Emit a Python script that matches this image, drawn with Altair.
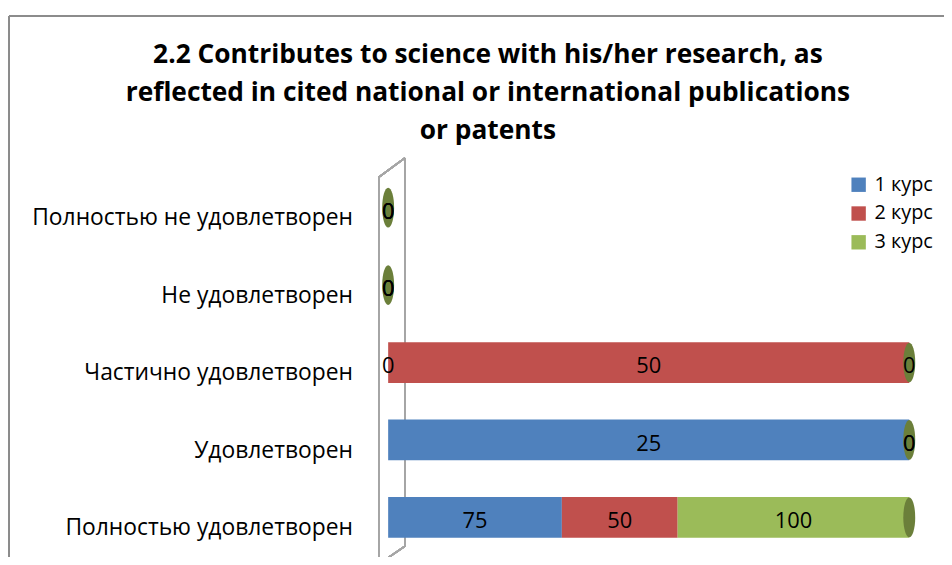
import altair as alt
import pandas as pd

categories = ["Полностью не удовлетворен", "Не удовлетворен", "Частично удовлетворен",
              "Удовлетворен", "Полностью удовлетворен"]
series = ["1 курс", "2 курс", "3 курс"]
values_1 = [0, 0, 0, 25, 75]
values_2 = [0, 0, 50, 0, 50]
values_3 = [0, 0, 0, 0, 100]
colors = ["#4F81BD", "#C0504D", "#9BBB59"]

rows = []
for s_i, (s, vals) in enumerate(zip(series, [values_1, values_2, values_3])):
    for c, v in zip(categories, vals):
        rows.append({"category": c, "series": s, "order": s_i, "value": v})
df = pd.DataFrame(rows)

FONT = "Open Sans"
W, H = 525, 382

base = (
    alt.Chart(df)
    .transform_joinaggregate(total="sum(value)", groupby=["category"])
    .transform_calculate(pct="datum.total > 0 ? datum.value / datum.total : 0")
    .transform_stack(stack="pct", groupby=["category"], as_=["x0", "x1"],
                     sort=[alt.SortField("order", order="ascending")])
    .transform_calculate(mid="(datum.x0 + datum.x1) / 2")
)

yscale = alt.Scale(paddingInner=0.474, paddingOuter=0.185, align=0.4)
yenc = alt.Y("category:N", sort=categories, title=None, scale=yscale,
             axis=alt.Axis(labelFont=FONT, labelFontSize=23, labelColor="#000000",
                           labelPadding=36, labelLimit=500, labelOffset=11,
                           ticks=False, domain=False))
xscale = alt.Scale(domain=[0, 1])

bars = base.mark_bar().encode(
    x=alt.X("x0:Q", scale=xscale, axis=None),
    x2="x1:Q",
    y=yenc,
    color=alt.Color("series:N", scale=alt.Scale(domain=series, range=colors),
                    legend=alt.Legend(title=None, orient="none", legendX=464, legendY=-1,
                                      padding=0, symbolType="square", symbolSize=210,
                                      symbolStrokeWidth=0, symbolOffset=0,
                                      labelFont=FONT, labelFontSize=20, labelOffset=6,
                                      labelColor="#000000", rowPadding=9)),
)

caps = base.transform_filter("datum.series == '3 курс'").mark_point(
    filled=True, opacity=1, color="#6B7F3A",
    shape="M0,-1 A0.3,1 0 1,1 0,1 A0.3,1 0 1,1 0,-1 Z", size=1600,
).encode(x=alt.X("x1:Q", scale=xscale), y=alt.Y("category:N", sort=categories))

labels = base.mark_text(font=FONT, fontSize=22, color="#000000", dy=4).encode(
    x=alt.X("mid:Q", scale=xscale),
    y=alt.Y("category:N", sort=categories),
    text=alt.Text("value:Q"),
)

frame_left = alt.Chart(df).mark_rule(color="#8C8C8C", strokeWidth=1.5).encode(
    x=alt.value(-382), y=alt.value(-161), y2=alt.value(H + 10))
frame_top = alt.Chart(df).mark_rule(color="#8C8C8C", strokeWidth=1.5).encode(
    x=alt.value(-382), x2=alt.value(600), y=alt.value(-161))
wall_left = alt.Chart(df).mark_rule(color="#A6A6A6", strokeWidth=1.5).encode(
    x=alt.value(-9), y=alt.value(1), y2=alt.value(H + 10))
wall_right = alt.Chart(df).mark_rule(color="#A6A6A6", strokeWidth=1.5).encode(
    x=alt.value(17), y=alt.value(-18), y2=alt.value(373))
wall_top = alt.Chart(df).mark_rule(color="#A6A6A6", strokeWidth=1.5).encode(
    x=alt.value(-9), x2=alt.value(17), y=alt.value(1), y2=alt.value(-18))
wall_bottom = alt.Chart(df).mark_rule(color="#A6A6A6", strokeWidth=1.5).encode(
    x=alt.value(-9), x2=alt.value(17), y=alt.value(391), y2=alt.value(373))

chart = alt.layer(frame_left, frame_top, wall_left, wall_right, wall_top, wall_bottom,
                  bars, caps, labels).properties(
    width=W, height=H,
    autosize=alt.AutoSizeParams(type="none"),
    padding={"left": 383, "top": 167, "right": 35, "bottom": 0},
    title=alt.TitleParams(
        text=["2.2 Contributes to science with his/her research, as",
              "reflected in cited national or international publications",
              "or patents"],
        font=FONT, fontSize=26.5, fontWeight="bold", color="#000000",
        anchor="middle", dx=-162, offset=-130, lineHeight=38,
    ),
).configure_view(stroke=None)

chart.save("out.html", embed_options={"renderer": "svg", "actions": False})
